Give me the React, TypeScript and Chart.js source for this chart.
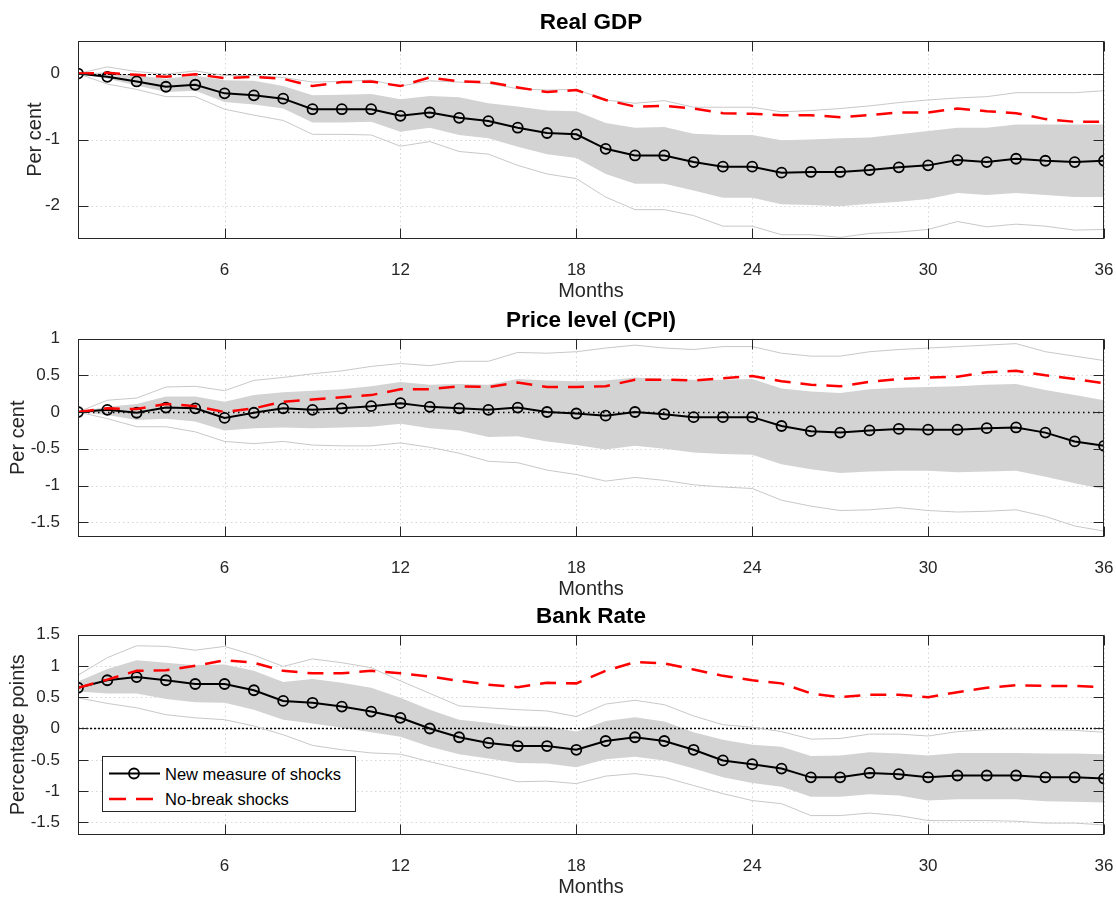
import React, { useEffect, useRef } from "react";
import { Chart, registerables } from "chart.js";

Chart.register(...registerables);

// months on the horizontal axis
const months = [1, 2, 3, 4, 5, 6, 7, 8, 9, 10, 11, 12, 13, 14, 15, 16, 17, 18, 19, 20, 21, 22, 23, 24, 25, 26, 27, 28, 29, 30, 31, 32, 33, 34, 35, 36];
const monthTicks = [6, 12, 18, 24, 30, 36];

// Real GDP
const gdpNew = [0, -0.05, -0.12, -0.2, -0.17, -0.3, -0.33, -0.38, -0.54, -0.54, -0.54, -0.64, -0.59, -0.67, -0.72, -0.82, -0.9, -0.92, -1.14, -1.24, -1.24, -1.34, -1.41, -1.41, -1.5, -1.49, -1.49, -1.46, -1.42, -1.39, -1.31, -1.34, -1.29, -1.32, -1.34, -1.32];
const gdpNoBreak = [0, 0.01, -0.02, -0.05, -0.01, -0.07, -0.05, -0.08, -0.19, -0.13, -0.12, -0.19, -0.06, -0.12, -0.13, -0.21, -0.28, -0.25, -0.4, -0.5, -0.49, -0.53, -0.6, -0.61, -0.63, -0.63, -0.66, -0.63, -0.59, -0.59, -0.53, -0.57, -0.6, -0.69, -0.73, -0.73];
const gdpBandHi = [0, 0.02, -0.03, -0.08, -0.03, -0.1, -0.11, -0.19, -0.33, -0.32, -0.31, -0.39, -0.34, -0.36, -0.45, -0.5, -0.56, -0.57, -0.75, -0.82, -0.81, -0.91, -0.93, -0.93, -1.01, -1.0, -0.98, -0.97, -0.92, -0.87, -0.82, -0.82, -0.77, -0.77, -0.77, -0.77];
const gdpBandLo = [0, -0.08, -0.18, -0.28, -0.26, -0.43, -0.47, -0.53, -0.74, -0.74, -0.73, -0.88, -0.82, -0.93, -0.98, -1.11, -1.22, -1.28, -1.52, -1.67, -1.67, -1.77, -1.88, -1.88, -1.98, -1.99, -2.01, -1.97, -1.94, -1.9, -1.81, -1.84, -1.81, -1.84, -1.87, -1.87];
const gdpOuterHi = [0, 0.1, 0.03, -0.01, 0.04, -0.03, -0.03, -0.06, -0.13, -0.12, -0.1, -0.19, -0.11, -0.13, -0.15, -0.23, -0.25, -0.24, -0.4, -0.45, -0.41, -0.51, -0.51, -0.51, -0.58, -0.56, -0.53, -0.49, -0.44, -0.4, -0.37, -0.35, -0.29, -0.29, -0.29, -0.26];
const gdpOuterLo = [0, -0.16, -0.24, -0.35, -0.35, -0.54, -0.63, -0.71, -0.92, -0.92, -0.93, -1.1, -1.03, -1.18, -1.22, -1.39, -1.52, -1.59, -1.87, -2.06, -2.06, -2.15, -2.31, -2.31, -2.44, -2.44, -2.48, -2.42, -2.4, -2.36, -2.24, -2.32, -2.28, -2.31, -2.37, -2.36];
const gdpTicks = [-2, -1, 0];

// Price level (CPI)
const cpiNew = [0, 0.03, -0.01, 0.06, 0.05, -0.08, -0.01, 0.05, 0.03, 0.05, 0.08, 0.12, 0.07, 0.05, 0.03, 0.06, 0.0, -0.02, -0.05, 0.0, -0.03, -0.07, -0.07, -0.07, -0.19, -0.26, -0.28, -0.25, -0.23, -0.24, -0.24, -0.22, -0.21, -0.28, -0.4, -0.46];
const cpiNoBreak = [0, 0.05, 0.04, 0.11, 0.08, 0.0, 0.05, 0.14, 0.17, 0.2, 0.23, 0.31, 0.31, 0.35, 0.34, 0.4, 0.34, 0.34, 0.35, 0.44, 0.44, 0.43, 0.46, 0.49, 0.42, 0.37, 0.35, 0.41, 0.45, 0.47, 0.48, 0.54, 0.56, 0.5, 0.45, 0.39];
const cpiBandHi = [0, 0.07, 0.11, 0.21, 0.21, 0.14, 0.23, 0.27, 0.29, 0.31, 0.35, 0.41, 0.37, 0.38, 0.37, 0.45, 0.43, 0.42, 0.43, 0.47, 0.45, 0.44, 0.44, 0.45, 0.32, 0.28, 0.26, 0.31, 0.33, 0.34, 0.35, 0.37, 0.38, 0.3, 0.23, 0.16];
const cpiBandLo = [0, -0.04, -0.11, -0.09, -0.13, -0.25, -0.22, -0.21, -0.22, -0.21, -0.2, -0.16, -0.22, -0.25, -0.34, -0.33, -0.4, -0.45, -0.51, -0.46, -0.5, -0.55, -0.57, -0.58, -0.71, -0.78, -0.83, -0.81, -0.8, -0.8, -0.82, -0.81, -0.8, -0.88, -0.97, -1.05];
const cpiOuterHi = [0, 0.16, 0.19, 0.34, 0.35, 0.29, 0.43, 0.47, 0.52, 0.56, 0.62, 0.66, 0.63, 0.69, 0.69, 0.81, 0.8, 0.82, 0.87, 0.91, 0.87, 0.85, 0.89, 0.89, 0.8, 0.76, 0.76, 0.82, 0.85, 0.87, 0.89, 0.91, 0.93, 0.82, 0.76, 0.7];
const cpiOuterLo = [0, -0.09, -0.2, -0.2, -0.27, -0.4, -0.43, -0.4, -0.45, -0.46, -0.46, -0.42, -0.48, -0.56, -0.67, -0.69, -0.79, -0.85, -0.94, -0.89, -0.93, -0.99, -1.02, -1.04, -1.2, -1.28, -1.34, -1.33, -1.3, -1.34, -1.36, -1.35, -1.33, -1.42, -1.55, -1.62];
const cpiTicks = [-1.5, -1, -0.5, 0, 0.5, 1];

// Bank Rate
const rateNew = [0.65, 0.77, 0.82, 0.77, 0.71, 0.71, 0.61, 0.44, 0.41, 0.35, 0.27, 0.17, 0.0, -0.14, -0.23, -0.28, -0.28, -0.34, -0.2, -0.14, -0.2, -0.34, -0.51, -0.57, -0.64, -0.78, -0.78, -0.71, -0.73, -0.78, -0.75, -0.75, -0.75, -0.78, -0.78, -0.8];
const rateNoBreak = [0.65, 0.78, 0.92, 0.93, 1.0, 1.09, 1.05, 0.92, 0.88, 0.88, 0.92, 0.88, 0.83, 0.76, 0.7, 0.66, 0.73, 0.72, 0.92, 1.06, 1.04, 0.94, 0.84, 0.77, 0.72, 0.56, 0.5, 0.54, 0.54, 0.5, 0.58, 0.65, 0.69, 0.68, 0.68, 0.66];
const rateBandHi = [0.75, 0.95, 1.09, 1.05, 1.01, 1.02, 0.92, 0.74, 0.79, 0.73, 0.65, 0.49, 0.3, 0.14, 0.09, 0.03, 0.03, -0.05, 0.12, 0.18, 0.11, -0.06, -0.18, -0.26, -0.29, -0.44, -0.43, -0.38, -0.4, -0.43, -0.39, -0.39, -0.39, -0.4, -0.4, -0.41];
const rateBandLo = [0.59, 0.56, 0.56, 0.47, 0.42, 0.41, 0.3, 0.14, 0.08, 0.01, -0.06, -0.13, -0.29, -0.41, -0.48, -0.55, -0.56, -0.62, -0.49, -0.45, -0.51, -0.64, -0.78, -0.87, -0.93, -1.09, -1.09, -1.05, -1.07, -1.15, -1.13, -1.13, -1.13, -1.16, -1.17, -1.18];
const rateOuterHi = [0.85, 1.13, 1.32, 1.31, 1.25, 1.31, 1.17, 0.99, 1.11, 1.05, 0.97, 0.76, 0.56, 0.36, 0.33, 0.3, 0.28, 0.19, 0.39, 0.45, 0.38, 0.2, 0.06, 0.02, -0.05, -0.17, -0.16, -0.09, -0.09, -0.12, -0.05, -0.02, -0.01, -0.02, -0.03, -0.06];
const rateOuterLo = [0.49, 0.4, 0.33, 0.22, 0.17, 0.14, 0.04, -0.1, -0.27, -0.34, -0.39, -0.41, -0.53, -0.64, -0.74, -0.85, -0.84, -0.88, -0.76, -0.72, -0.78, -0.91, -1.04, -1.15, -1.2, -1.39, -1.39, -1.35, -1.39, -1.47, -1.47, -1.47, -1.48, -1.51, -1.51, -1.54];
const rateTicks = [-1.5, -1, -0.5, 0, 0.5, 1, 1.5];

const FONT = "'Liberation Sans', Arial, Helvetica, sans-serif";
const AXIS_COLOR = "#262626";

type PanelProps = {
  title: string;
  yLabel: string;
  yMin: number;
  yMax: number;
  yTicks: number[];
  yTitlePad: number;
  newShock: number[];
  noBreak: number[];
  bandHi: number[];
  bandLo: number[];
  outerHi: number[];
  outerLo: number[];
  top: number;
  height: number;
  axisHeight: number;
  zeroDash: number[];
  zeroWidth: number;
};

const toPoints = (values: number[]) => months.map((m, i) => ({ x: m, y: values[i] }));

// matlab-ish axes: dotted grid, zero line, boxed frame with inward ticks
const makeFrame = (zeroDash: number[], zeroWidth: number) => ({
  id: "frame",
  beforeDatasetsDraw(chart: any) {
    const { ctx, chartArea: a, scales } = chart;
    const x = scales.x;
    const y = scales.y;
    ctx.save();
    ctx.strokeStyle = "#d6d6d6";
    ctx.lineWidth = 1;
    ctx.setLineDash([1.5, 3]);
    x.ticks.forEach((t: any) => {
      const px = Math.round(x.getPixelForValue(t.value)) + 0.5;
      ctx.beginPath();
      ctx.moveTo(px, a.top);
      ctx.lineTo(px, a.bottom);
      ctx.stroke();
    });
    y.ticks.forEach((t: any) => {
      const py = Math.round(y.getPixelForValue(t.value)) + 0.5;
      ctx.beginPath();
      ctx.moveTo(a.left, py);
      ctx.lineTo(a.right, py);
      ctx.stroke();
    });
    ctx.restore();
  },
  afterDatasetDraw(chart: any, args: any) {
    // draw zero line right after the shaded band
    if (args.index !== 4) return;
    const { ctx, chartArea: a, scales } = chart;
    const py = Math.round(scales.y.getPixelForValue(0)) + 0.5;
    ctx.save();
    ctx.strokeStyle = "#000";
    ctx.lineWidth = zeroWidth;
    ctx.setLineDash(zeroDash);
    ctx.beginPath();
    ctx.moveTo(a.left, py);
    ctx.lineTo(a.right, py);
    ctx.stroke();
    ctx.restore();
  },
  afterDraw(chart: any) {
    const { ctx, chartArea: a, scales } = chart;
    const x = scales.x;
    const y = scales.y;
    const len = 10;
    ctx.save();
    ctx.strokeStyle = AXIS_COLOR;
    ctx.lineWidth = 1;
    ctx.setLineDash([]);
    const l = Math.round(a.left) + 0.5;
    const r = Math.round(a.right) - 0.5;
    const t = Math.round(a.top) + 0.5;
    const b = Math.round(a.bottom) - 0.5;
    ctx.strokeRect(l, t, r - l, b - t);
    ctx.beginPath();
    x.ticks.forEach((tk: any) => {
      const px = Math.round(x.getPixelForValue(tk.value)) + 0.5;
      ctx.moveTo(px, b);
      ctx.lineTo(px, b - len);
      ctx.moveTo(px, t);
      ctx.lineTo(px, t + len);
    });
    y.ticks.forEach((tk: any) => {
      const py = Math.round(y.getPixelForValue(tk.value)) + 0.5;
      ctx.moveTo(l, py);
      ctx.lineTo(l + len, py);
      ctx.moveTo(r, py);
      ctx.lineTo(r - len, py);
    });
    ctx.stroke();
    ctx.restore();
  },
});

const Panel: React.FC<PanelProps> = (p) => {
  const canvasRef = useRef<HTMLCanvasElement>(null);
  const chartRef = useRef<Chart | null>(null);

  useEffect(() => {
    if (!canvasRef.current) return;
    if (chartRef.current) chartRef.current.destroy();

    chartRef.current = new Chart(canvasRef.current, {
      type: "line",
      data: {
        datasets: [
          {
            label: "No-break shocks",
            data: toPoints(p.noBreak),
            borderColor: "#ff0000",
            borderWidth: 2.5,
            borderDash: [16, 10],
            pointRadius: 0,
            fill: false,
          },
          {
            label: "New measure of shocks",
            data: toPoints(p.newShock),
            borderColor: "#000",
            borderWidth: 2,
            pointRadius: 5,
            pointBorderWidth: 1.8,
            pointBorderColor: "#000",
            pointBackgroundColor: "rgba(0,0,0,0)",
            fill: false,
          },
          {
            label: "outer upper",
            data: toPoints(p.outerHi),
            borderColor: "#c8c8c8",
            borderWidth: 1,
            pointRadius: 0,
            fill: false,
          },
          {
            label: "outer lower",
            data: toPoints(p.outerLo),
            borderColor: "#c8c8c8",
            borderWidth: 1,
            pointRadius: 0,
            fill: false,
          },
          {
            label: "band upper",
            data: toPoints(p.bandHi),
            borderWidth: 0,
            pointRadius: 0,
            backgroundColor: "#d3d3d3",
            fill: "+1",
          },
          {
            label: "band lower",
            data: toPoints(p.bandLo),
            borderWidth: 0,
            pointRadius: 0,
            fill: false,
          },
        ],
      },
      options: {
        responsive: true,
        maintainAspectRatio: false,
        animation: false,
        events: [],
        layout: { padding: { left: 0, right: 12, top: 0, bottom: 0 } },
        plugins: {
          legend: { display: false },
          tooltip: { enabled: false },
          title: {
            display: true,
            text: p.title,
            fullSize: false,
            color: "#000",
            font: { family: FONT, size: 22.5, weight: "bold" },
            padding: { top: 9.5, bottom: 4 },
          },
        },
        scales: {
          x: {
            type: "linear",
            min: 1,
            max: 36,
            grid: { display: false },
            border: { display: false },
            afterBuildTicks: (axis: any) => {
              axis.ticks = monthTicks.map((v) => ({ value: v }));
            },
            afterFit: (axis: any) => {
              axis.height = p.axisHeight;
              axis.paddingLeft = 0;
              axis.paddingRight = 0;
            },
            ticks: {
              autoSkip: false,
              maxRotation: 0,
              padding: 13,
              color: AXIS_COLOR,
              font: { family: FONT, size: 17 },
              callback: (v: any) => String(v),
            },
            title: {
              display: true,
              text: "Months",
              color: AXIS_COLOR,
              font: { family: FONT, size: 20 },
              padding: { top: 0, bottom: 0 },
            },
          },
          y: {
            type: "linear",
            min: p.yMin,
            max: p.yMax,
            grid: { display: false },
            border: { display: false },
            afterBuildTicks: (axis: any) => {
              axis.ticks = p.yTicks.map((v) => ({ value: v }));
            },
            afterFit: (axis: any) => {
              axis.width = 78;
              axis.paddingTop = 0;
              axis.paddingBottom = 0;
            },
            ticks: {
              autoSkip: false,
              padding: 10,
              color: AXIS_COLOR,
              font: { family: FONT, size: 17 },
              callback: (v: any) => String(v),
            },
            title: {
              display: true,
              text: p.yLabel,
              color: AXIS_COLOR,
              font: { family: FONT, size: 20 },
              padding: { top: p.yTitlePad, bottom: 0 },
            },
          },
        },
      },
      plugins: [makeFrame(p.zeroDash, p.zeroWidth)],
    } as any);

    return () => {
      if (chartRef.current) {
        chartRef.current.destroy();
        chartRef.current = null;
      }
    };
  }, []);

  return (
    <div style={{ position: "absolute", left: 0, top: p.top, width: 1116, height: p.height }}>
      <canvas ref={canvasRef}></canvas>
    </div>
  );
};

const Legend: React.FC = () => (
  <div
    style={{
      position: "absolute",
      left: 102,
      top: 756,
      width: 254,
      height: 56,
      border: `1px solid ${AXIS_COLOR}`,
      background: "#fff",
      fontFamily: FONT,
      fontSize: 16.5,
      color: "#000",
      boxSizing: "border-box",
      zIndex: 2,
    }}
  >
    <svg width={60} height={56} style={{ position: "absolute", left: 0, top: 0 }}>
      <line x1={6} y1={16.5} x2={57} y2={16.5} stroke="#000" strokeWidth={2} />
      <circle cx={31} cy={16.5} r={5} fill="none" stroke="#000" strokeWidth={1.8} />
      <line x1={6} y1={42} x2={52} y2={42} stroke="#ff0000" strokeWidth={2.5} strokeDasharray="17 10" />
    </svg>
    <span style={{ position: "absolute", left: 62, top: 16.5, transform: "translateY(-50%)", whiteSpace: "nowrap" }}>
      New measure of shocks
    </span>
    <span style={{ position: "absolute", left: 62, top: 42, transform: "translateY(-50%)", whiteSpace: "nowrap" }}>
      No-break shocks
    </span>
  </div>
);

const App: React.FC = () => {
  return (
    <div
      style={{
        position: "absolute",
        left: 0,
        top: 0,
        width: 1116,
        height: 897,
        overflow: "hidden",
        background: "#fff",
      }}
    >
      <Panel
        title="Real GDP"
        yLabel="Per cent"
        yMin={-2.5}
        yMax={0.5}
        yTicks={gdpTicks}
        yTitlePad={23}
        newShock={gdpNew}
        noBreak={gdpNoBreak}
        bandHi={gdpBandHi}
        bandLo={gdpBandLo}
        outerHi={gdpOuterHi}
        outerLo={gdpOuterLo}
        top={0}
        height={303}
        axisHeight={64.3}
        zeroDash={[3, 2]}
        zeroWidth={1}
      />
      <Panel
        title="Price level (CPI)"
        yLabel="Per cent"
        yMin={-1.7}
        yMax={1}
        yTicks={cpiTicks}
        yTitlePad={6.5}
        newShock={cpiNew}
        noBreak={cpiNoBreak}
        bandHi={cpiBandHi}
        bandLo={cpiBandLo}
        outerHi={cpiOuterHi}
        outerLo={cpiOuterLo}
        top={298}
        height={303}
        axisHeight={64}
        zeroDash={[1.5, 3.5]}
        zeroWidth={1.5}
      />
      <Panel
        title="Bank Rate"
        yLabel="Percentage points"
        yMin={-1.7}
        yMax={1.5}
        yTicks={rateTicks}
        yTitlePad={6.5}
        newShock={rateNew}
        noBreak={rateNoBreak}
        bandHi={rateBandHi}
        bandLo={rateBandLo}
        outerHi={rateOuterHi}
        outerLo={rateOuterLo}
        top={594}
        height={305}
        axisHeight={64}
        zeroDash={[2, 2]}
        zeroWidth={1.5}
      />
      <Legend />
    </div>
  );
};

export default App;
